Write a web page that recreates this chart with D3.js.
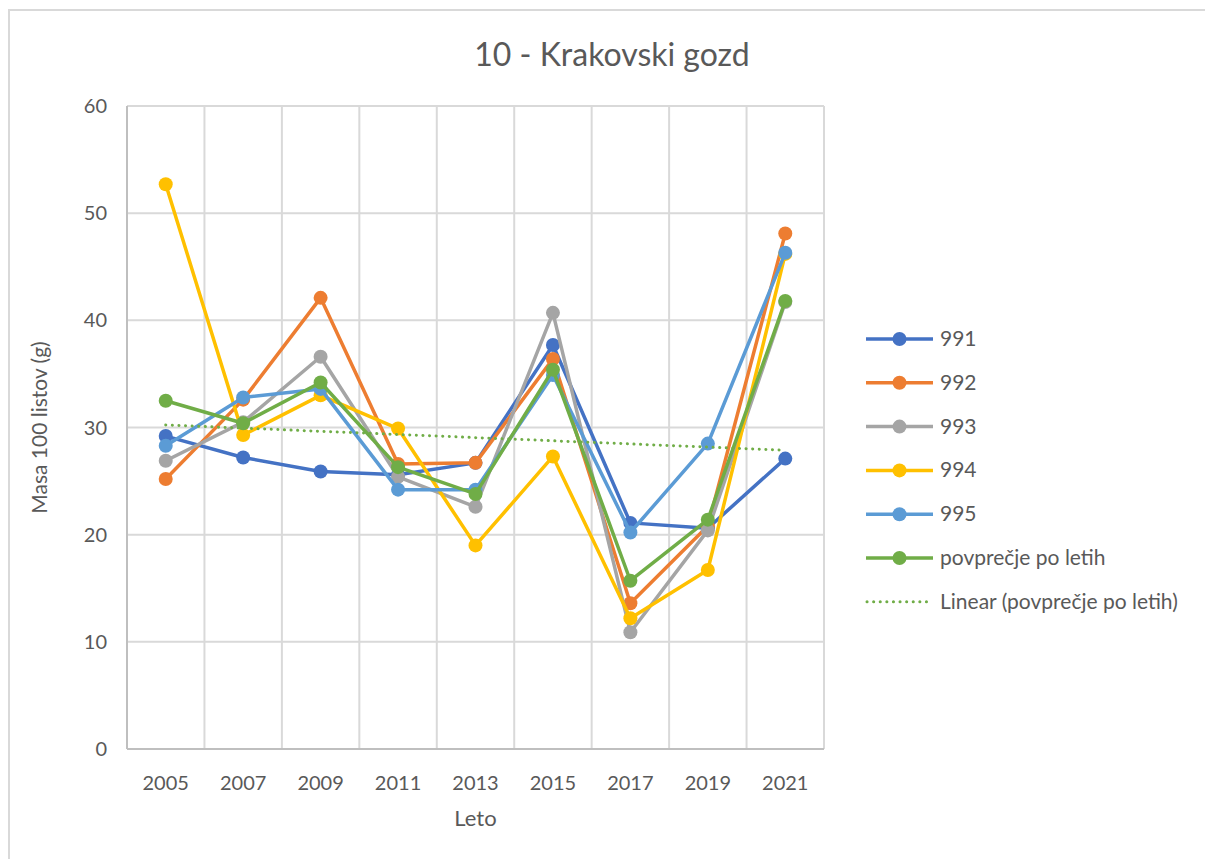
<!DOCTYPE html>
<html>
<head>
<meta charset="utf-8">
<script src="https://cdn.jsdelivr.net/npm/d3@7"></script>
<style>
  body { margin: 0; background: #fff; }
  svg { font-family: Lato, "Open Sans", sans-serif; }
</style>
</head>
<body>
<div id="chart"></div>
<script>
const years = ['2005', '2007', '2009', '2011', '2013', '2015', '2017', '2019', '2021'];
const s991 = [29.2, 27.2, 25.9, 25.6, 26.7, 37.7, 21.1, 20.6, 27.1];
const s992 = [25.2, 32.6, 42.1, 26.6, 26.7, 36.4, 13.6, 20.8, 48.1];
const s993 = [26.9, 30.5, 36.6, 25.4, 22.6, 40.7, 10.9, 20.4, 41.7];
const s994 = [52.7, 29.3, 33.0, 29.9, 19.0, 27.3, 12.2, 16.7, 46.2];
const s995 = [28.3, 32.8, 33.6, 24.2, 24.2, 34.9, 20.2, 28.5, 46.3];
const avg = [32.5, 30.4, 34.2, 26.3, 23.8, 35.4, 15.7, 21.4, 41.8];
const yTicks = [0, 10, 20, 30, 40, 50, 60];

const series = [
    {name: '991', values: s991, color: '#4472C4'},
    {name: '992', values: s992, color: '#ED7D31'},
    {name: '993', values: s993, color: '#A5A5A5'},
    {name: '994', values: s994, color: '#FFC000'},
    {name: '995', values: s995, color: '#5B9BD5'},
    {name: 'povprečje po letih', values: avg, color: '#70AD47'}
];

const width = 1205, height = 859;
const margin = {top: 106, left: 127, right: 381, bottom: 110};
const textColor = '#595959';
const gridColor = '#D9D9D9';

const svg = d3.select('#chart').append('svg')
    .attr('width', width)
    .attr('height', height);

// chart frame
svg.append('rect')
    .attr('x', 9).attr('y', 10)
    .attr('width', width + 20).attr('height', height + 20)
    .attr('fill', 'none')
    .attr('stroke', gridColor)
    .attr('stroke-width', 2);

const x = d3.scaleBand()
    .domain(years)
    .range([margin.left, width - margin.right])
    .padding(0);

const y = d3.scaleLinear()
    .domain([0, 60])
    .range([height - margin.bottom, margin.top]);

const cx = d => x(d) + x.bandwidth() / 2;

// horizontal gridlines
svg.append('g')
    .selectAll('line')
    .data(yTicks.filter(t => t > 0))
    .enter().append('line')
    .attr('x1', x.range()[0]).attr('x2', x.range()[1])
    .attr('y1', d => y(d)).attr('y2', d => y(d))
    .attr('stroke', gridColor).attr('stroke-width', 2);

// vertical gridlines between categories
svg.append('g')
    .selectAll('line')
    .data(years)
    .enter().append('line')
    .attr('x1', d => x(d) + x.bandwidth()).attr('x2', d => x(d) + x.bandwidth())
    .attr('y1', y(0)).attr('y2', y(60))
    .attr('stroke', gridColor).attr('stroke-width', 2);

// axis lines
svg.append('line')
    .attr('x1', x.range()[0]).attr('x2', x.range()[0])
    .attr('y1', y(0)).attr('y2', y(60))
    .attr('stroke', '#BFBFBF').attr('stroke-width', 2);
svg.append('line')
    .attr('x1', x.range()[0]).attr('x2', x.range()[1])
    .attr('y1', y(0)).attr('y2', y(0))
    .attr('stroke', '#BFBFBF').attr('stroke-width', 2);

// tick labels
svg.append('g')
    .selectAll('text')
    .data(yTicks)
    .enter().append('text')
    .attr('x', 107)
    .attr('y', d => y(d) + 7)
    .attr('text-anchor', 'end')
    .attr('font-size', 20)
    .attr('fill', textColor)
    .text(d => d);

svg.append('g')
    .selectAll('text')
    .data(years)
    .enter().append('text')
    .attr('x', d => cx(d))
    .attr('y', y(0) + 41)
    .attr('text-anchor', 'middle')
    .attr('font-size', 20)
    .attr('fill', textColor)
    .text(d => d);

// titles
svg.append('text')
    .attr('x', 612).attr('y', 66)
    .attr('text-anchor', 'middle')
    .attr('font-size', 32)
    .attr('fill', textColor)
    .text('10 - Krakovski gozd');

svg.append('text')
    .attr('x', (x.range()[0] + x.range()[1]) / 2)
    .attr('y', 826)
    .attr('text-anchor', 'middle')
    .attr('font-size', 22)
    .attr('fill', textColor)
    .text('Leto');

svg.append('text')
    .attr('transform', `translate(47, ${y(30)}) rotate(-90)`)
    .attr('text-anchor', 'middle')
    .attr('font-size', 21)
    .attr('fill', textColor)
    .text('Masa 100 listov (g)');

// series
const line = d3.line()
    .x((d, i) => cx(years[i]))
    .y(d => y(d));

series.forEach(function(s) {
    const g = svg.append('g');
    g.append('path')
        .attr('d', line(s.values))
        .attr('fill', 'none')
        .attr('stroke', s.color)
        .attr('stroke-width', 3.5)
        .attr('stroke-linejoin', 'round');
    g.selectAll('circle')
        .data(s.values)
        .enter().append('circle')
        .attr('cx', (d, i) => cx(years[i]))
        .attr('cy', d => y(d))
        .attr('r', 7)
        .attr('fill', s.color);
});

// linear trendline of the averages (least squares, like Excel)
const n = avg.length;
const xs = d3.range(1, n + 1);
const mx = d3.mean(xs), my = d3.mean(avg);
const slope = d3.sum(xs, (v, i) => (v - mx) * (avg[i] - my)) / d3.sum(xs, v => (v - mx) * (v - mx));
const icpt = my - slope * mx;
svg.append('line')
    .attr('x1', cx(years[0])).attr('x2', cx(years[n - 1]))
    .attr('y1', y(icpt + slope * 1)).attr('y2', y(icpt + slope * n))
    .attr('stroke', '#70AD47')
    .attr('stroke-width', 3)
    .attr('stroke-dasharray', '0.1 6.5')
    .attr('stroke-linecap', 'round');

// legend
const legendItems = series.map(s => ({name: s.name, color: s.color, marker: true}));
legendItems.push({name: 'Linear (povprečje po letih)', color: '#70AD47', marker: false});

const legend = svg.append('g');
legendItems.forEach(function(d, i) {
    const ly = 339 + i * 43.8;
    const item = legend.append('g');
    if (d.marker) {
        item.append('line')
            .attr('x1', 866).attr('x2', 933)
            .attr('y1', ly).attr('y2', ly)
            .attr('stroke', d.color).attr('stroke-width', 3.5);
        item.append('circle')
            .attr('cx', 899.5).attr('cy', ly).attr('r', 7)
            .attr('fill', d.color);
    } else {
        item.append('line')
            .attr('x1', 867).attr('x2', 930)
            .attr('y1', ly).attr('y2', ly)
            .attr('stroke', d.color).attr('stroke-width', 3)
            .attr('stroke-dasharray', '0.1 6.5')
            .attr('stroke-linecap', 'round');
    }
    item.append('text')
        .attr('x', 940).attr('y', ly + 7)
        .attr('font-size', 21)
        .attr('fill', textColor)
        .text(d.name);
});
</script>
</body>
</html>
